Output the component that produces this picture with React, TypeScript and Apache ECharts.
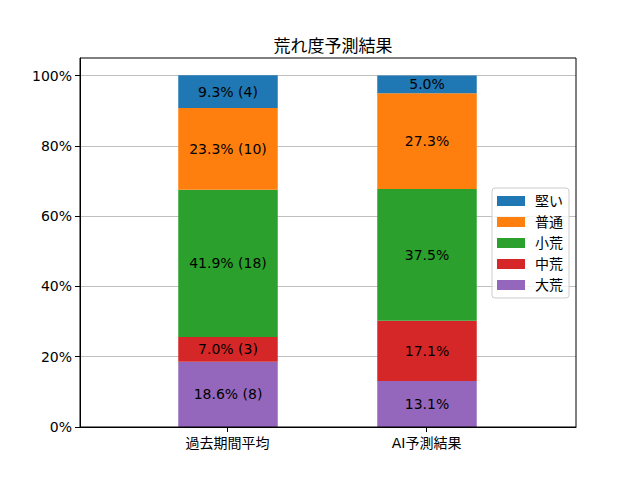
import React, { useEffect, useRef } from "react";
import * as echarts from "echarts";

const categories = ["過去期間平均", "AI予測結果"];
const levels = ["大荒", "中荒", "小荒", "普通", "堅い"];
const legendOrder = ["堅い", "普通", "小荒", "中荒", "大荒"];
const pastValues = [18.6, 7.0, 41.9, 23.3, 9.3];
const pastCounts = [8, 3, 18, 10, 4];
const aiValues = [13.1, 17.1, 37.5, 27.3, 5.0];
const yTicks = [0, 20, 40, 60, 80, 100];
const colors = ["#9467bd", "#d62728", "#2ca02c", "#ff7f0e", "#1f77b4"];

const FONT = "'DejaVu Sans', 'Noto Sans CJK JP', sans-serif";

export default function App() {
  const ref = useRef<HTMLDivElement>(null);
  useEffect(() => {
    document.body.style.margin = "0";
    const chart = echarts.init(ref.current!, null, { renderer: "svg" });
    const L = 80, R = 576, T = 58, B = 427;
    // bar grid: category centres at 228 and 427
    const BL = 128.5, BR = 526.5;
    const series = levels.map((name, i) => ({
      name,
      type: "bar",
      stack: "total",
      xAxisIndex: 1,
      yAxisIndex: 1,
      barWidth: "50%",
      itemStyle: { color: colors[i] },
      label: {
        show: true,
        position: "inside",
        color: "#000",
        fontSize: 14,
        fontFamily: FONT,
        formatter: (p: any) =>
          p.dataIndex === 0
            ? `${pastValues[i].toFixed(1)}% (${pastCounts[i]})`
            : `${aiValues[i].toFixed(1)}%`,
      },
      data: [pastValues[i], aiValues[i]],
    }));
    chart.setOption({
      animation: false,
      textStyle: { fontFamily: FONT },
      title: {
        text: "荒れ度予測結果",
        left: (L + R) / 2,
        textAlign: "center",
        top: 32,
        textStyle: { fontSize: 17, fontWeight: "normal", color: "#000", fontFamily: FONT },
      },
      grid: [
        { left: L, right: 640 - R, top: T, bottom: 480 - B, containLabel: false },
        { left: BL, right: 640 - BR, top: T, bottom: 480 - B, containLabel: false },
      ],
      legend: {
        data: legendOrder,
        orient: "vertical",
        left: 492,
        top: 188,
        itemWidth: 28,
        itemHeight: 10,
        itemGap: 7,
        icon: "rect",
        padding: [6, 6, 6, 5],
        borderColor: "#cccccc",
        borderWidth: 1,
        borderRadius: 3,
        backgroundColor: "rgba(255,255,255,0.8)",
        textStyle: { fontSize: 14, color: "#000", fontFamily: FONT, padding: [0, 0, 0, 5] },
      },
      xAxis: [
        {
          type: "value",
          gridIndex: 0,
          min: -0.74,
          max: 1.75,
          splitLine: { show: false },
          axisLine: { show: true, onZero: false, lineStyle: { color: "#000", width: 1 } },
          axisTick: { show: true, customValues: [0, 1], length: 5, lineStyle: { color: "#000" } },
          axisLabel: {
            customValues: [0, 1],
            margin: 9,
            fontSize: 14,
            color: "#000",
            fontFamily: FONT,
            formatter: (v: number) => categories[Math.round(v)] ?? "",
          },
        },
        {
          type: "category",
          gridIndex: 1,
          data: categories,
          show: false,
        },
      ],
      yAxis: [
        {
          type: "value",
          gridIndex: 0,
          min: 0,
          max: 105,
          interval: 20,
          axisLine: { show: true, onZero: false, lineStyle: { color: "#000", width: 1 } },
          axisTick: { show: true, customValues: yTicks, length: 5, lineStyle: { color: "#000" } },
          splitLine: { show: true, lineStyle: { color: "#b0b0b0", width: 0.8 } },
          axisLabel: {
            customValues: yTicks,
            margin: 8,
            fontSize: 14,
            color: "#000",
            fontFamily: FONT,
            formatter: (v: number) => `${v}%`,
          },
        },
        {
          type: "value",
          gridIndex: 1,
          min: 0,
          max: 105,
          show: false,
          splitLine: { show: false },
        },
      ],
      graphic: [
        {
          type: "rect",
          shape: { x: L, y: T, width: R - L, height: B - T },
          style: { fill: "none", stroke: "#000", lineWidth: 1 },
          z: 100,
          silent: true,
        },
      ],
      series,
    });
    return () => chart.dispose();
  }, []);
  return <div ref={ref} style={{ width: 640, height: 480 }} />;
}
